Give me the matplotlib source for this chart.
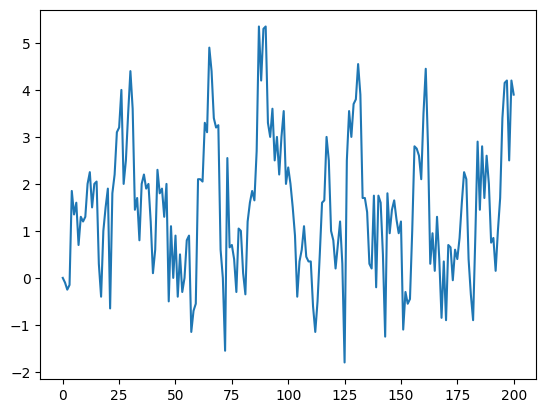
import numpy as np
import matplotlib
matplotlib.use('Agg')
import matplotlib.pyplot as plt

# valores, indice 0..200
valores = [
    0.0, -0.1, -0.25, -0.15, 1.85, 1.35, 1.6, 0.7, 1.3, 1.2,
    1.3, 2.0, 2.25, 1.5, 2.0, 2.05, 0.3, -0.4, 1.0, 1.5,
    1.9, -0.65, 1.8, 2.2, 3.1, 3.2, 4.0, 2.0, 2.5, 3.5,
    4.4, 3.6, 1.45, 1.7, 0.8, 2.0, 2.2, 1.9, 2.0, 1.2,
    0.1, 0.6, 2.3, 1.8, 1.9, 1.3, 2.0, -0.5, 1.1, 0.0,
    0.9, -0.4, 0.5, -0.3, 0.0, 0.8, 0.9, -1.15, -0.7, -0.55,
    2.1, 2.1, 2.05, 3.3, 3.1, 4.9, 4.4, 3.4, 3.2, 3.25,
    0.6, 0.0, -1.55, 2.55, 0.65, 0.7, 0.4, -0.3, 1.05, 1.0,
    0.1, -0.35, 1.2, 1.6, 1.85, 1.65, 2.7, 5.35, 4.2, 5.3,
    5.35, 3.3, 3.0, 3.6, 2.5, 3.0, 2.2, 3.0, 3.55, 2.0,
    2.35, 2.0, 1.5, 0.9, -0.4, 0.35, 0.6, 1.1, 0.45, 0.35,
    0.35, -0.6, -1.15, -0.5, 0.5, 1.6, 1.65, 3.0, 2.5, 1.0,
    0.8, 0.2, 0.7, 1.2, 0.3, -1.8, 2.5, 3.55, 3.0, 3.7,
    3.8, 4.55, 3.9, 1.7, 1.7, 1.4, 0.3, 0.2, 1.75, -0.2,
    1.75, 1.6, 0.5, -1.25, 1.8, 0.95, 1.45, 1.65, 1.25, 0.95,
    1.2, -1.1, -0.3, -0.55, -0.45, 1.0, 2.8, 2.75, 2.6, 2.1,
    3.5, 4.45, 2.8, 0.3, 0.95, 0.15, 1.3, 0.4, -0.85, 0.35,
    -0.9, 0.7, 0.65, -0.05, 0.6, 0.4, 0.85, 1.6, 2.25, 2.1,
    0.4, -0.35, -0.9, 0.9, 2.9, 1.45, 2.8, 1.7, 2.6, 2.0,
    0.75, 0.85, 0.15, 1.0, 1.7, 3.4, 4.15, 4.2, 2.5, 4.2,
    3.9,
]

fig, ax = plt.subplots(figsize=(6.4, 4.8), dpi=100)
ax.plot(np.arange(len(valores)), valores)
fig.savefig('out.png', bbox_inches='tight')
